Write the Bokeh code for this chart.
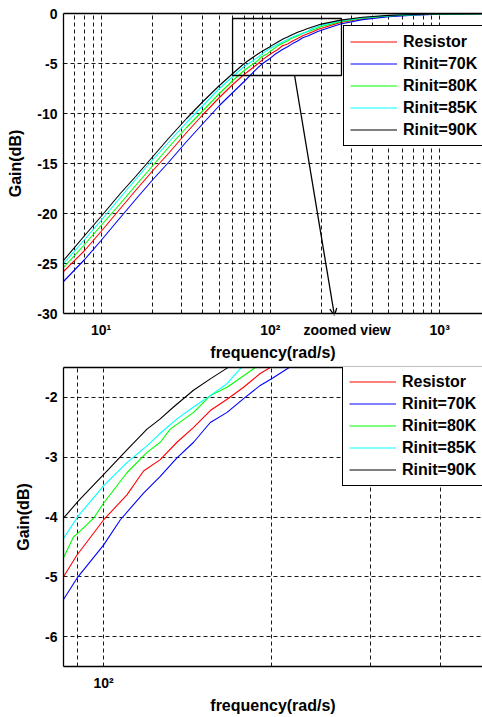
from bokeh.plotting import figure
from bokeh.models import (Range1d, FixedTicker, Legend, LegendItem, BoxAnnotation,
                          Arrow, OpenHead, LogAxis)
from bokeh.layouts import column
from bokeh.embed import file_html
from bokeh.resources import INLINE

# ---------------- data ----------------
series_names = ["Resistor", "Rinit=70K", "Rinit=80K", "Rinit=85K", "Rinit=90K"]
series_colors = ["#ff0000", "#0000ff", "#00ff00", "#00ffff", "#000000"]

freq_resistor = [6, 8, 10, 13, 16, 20, 25, 32, 40, 50, 60, 70, 84.8, 89.6, 100, 110.1, 117.9,
                 126.3, 135.3, 144.9, 155.2, 166.3, 178, 190.6, 198.7, 260, 350, 500, 700, 1000, 1800]
gain_resistor = [-25.8, -23.7, -21.8, -19.5, -17.7, -15.8, -14.0, -11.9, -10.1, -8.4, -7.1, -6.1,
                 -5.0, -4.64, -4.05, -3.63, -3.23, -3.04, -2.75, -2.50, -2.22, -2.03, -1.83, -1.60,
                 -1.50, -0.89, -0.51, -0.26, -0.13, -0.07, -0.02]

freq_70k = [6, 8, 10, 13, 16, 20, 25, 32, 40, 50, 60, 70, 84.8, 90, 100, 107.1, 117.9, 126.3,
            135.3, 144.9, 155.2, 166.3, 178, 190.6, 200.4, 214.8, 260, 350, 500, 700, 1000, 1800]
gain_70k = [-26.8, -24.6, -22.7, -20.4, -18.6, -16.7, -14.9, -12.8, -11.0, -9.2, -7.9, -6.8,
            -5.38, -5.0, -4.47, -4.05, -3.60, -3.32, -3.01, -2.75, -2.42, -2.25, -2.02, -1.80,
            -1.68, -1.50, -1.05, -0.61, -0.31, -0.16, -0.08, -0.03]

freq_80k = [6, 8, 10, 13, 16, 20, 25, 32, 40, 50, 60, 70, 84.8, 88.4, 90, 96, 100, 110.1, 119.6,
            126.3, 131.6, 144.9, 155.2, 166.3, 185.5, 200, 260, 350, 500, 700, 1000, 1800]
gain_80k = [-25.4, -23.1, -21.2, -19.0, -17.2, -15.3, -13.4, -11.4, -9.7, -8.0, -6.7, -5.7,
            -4.68, -4.33, -4.27, -4.02, -3.77, -3.26, -2.92, -2.75, -2.53, -2.25, -1.97, -1.83,
            -1.52, -1.30, -0.81, -0.47, -0.24, -0.12, -0.06, -0.02]

freq_85k = [6, 8, 10, 13, 16, 20, 25, 32, 40, 50, 60, 70, 84.8, 90, 100, 110.1, 119.6, 126.3,
            135.3, 144.9, 155.2, 166.3, 175.6, 200, 260, 350, 500, 700, 1000, 1800]
gain_85k = [-25.0, -22.6, -20.7, -18.4, -16.6, -14.7, -12.9, -10.9, -9.2, -7.5, -6.3, -5.3,
            -4.36, -3.99, -3.48, -3.09, -2.81, -2.60, -2.36, -2.16, -1.97, -1.77, -1.52, -1.18,
            -0.74, -0.42, -0.21, -0.11, -0.05, -0.02]

freq_90k = [6, 8, 10, 13, 16, 20, 25, 32, 40, 50, 60, 70, 84.8, 90, 100, 110, 119.6, 126.3,
            133.4, 144.8, 155.2, 166.3, 200, 260, 350, 500, 700, 1000, 1800]
gain_90k = [-24.7, -22.2, -20.3, -18.0, -16.3, -14.4, -12.5, -10.5, -8.8, -7.2, -6.0, -5.0,
            -4.02, -3.74, -3.29, -2.88, -2.53, -2.36, -2.16, -1.88, -1.69, -1.51, -1.06, -0.66,
            -0.37, -0.19, -0.10, -0.05, -0.02]

series_freqs = [freq_resistor, freq_70k, freq_80k, freq_85k, freq_90k]
series_gains = [gain_resistor, gain_70k, gain_80k, gain_85k, gain_90k]

# axes / ticks
top_x_major = [10, 100, 1000]
top_x_minor = [6, 7, 8, 9, 20, 30, 40, 50, 60, 70, 80, 90,
               200, 300, 400, 500, 600, 700, 800, 900]
zoom_text_freq = 284
top_x_labels = {10: "10\u00b9", 100: "10\u00b2", 1000: "10\u00b3", zoom_text_freq: "zoomed view"}
top_y_ticks = [0, -5, -10, -15, -20, -25, -30]
top_y_labels = {0: "0", -5: "-5", -10: "-10", -15: "-15", -20: "-20", -25: "-25", -30: "-30"}

bot_x_major = [100]
bot_x_minor = [90, 200, 300, 400]
bot_x_labels = {100: "10\u00b2"}
bot_y_ticks = [-2, -3, -4, -5, -6]
bot_y_labels = {-2: "-2", -3: "-3", -4: "-4", -5: "-5", -6: "-6"}

# zoom annotation (data coordinates of the top panel)
zoom_box = dict(left=59.8, right=263, top=-0.5, bottom=-6.2)
zoom_arrow = dict(x_start=139, y_start=-6.2, x_end=239, y_end=-30.2)

FONT = "Liberation Sans"
DASH = "4 3"


def make_fig(height, xr, yr, btop, bbot, xmaj, xmin, xlab, yt, ylab, legend_loc,
             label_ticks=None):
    p = figure(width=482, height=height, x_axis_type="log",
               x_range=Range1d(*xr), y_range=Range1d(*yr),
               output_backend="svg", toolbar_location=None,
               min_border_left=63, min_border_right=0,
               min_border_top=btop, min_border_bottom=bbot)
    grid_ticker = FixedTicker(ticks=xmaj, minor_ticks=xmin)
    p.xaxis.ticker = FixedTicker(ticks=label_ticks if label_ticks else xmaj, minor_ticks=xmin)
    p.xgrid.ticker = grid_ticker
    p.xaxis.major_label_overrides = xlab
    p.yaxis.ticker = FixedTicker(ticks=yt)
    p.yaxis.major_label_overrides = ylab
    for ax in (p.xaxis, p.yaxis):
        ax.major_tick_in = 0
        ax.major_tick_out = 0
        ax.minor_tick_in = 0
        ax.minor_tick_out = 0
        ax.axis_line_color = "black"
        ax.axis_line_width = 1.3
        ax.major_label_text_font = FONT
        ax.major_label_text_font_style = "bold"
        ax.major_label_text_font_size = "14px"
        ax.major_label_text_color = "black"
        ax.axis_label_text_font = FONT
        ax.axis_label_text_font_style = "bold"
        ax.axis_label_text_font_size = "16px"
        ax.axis_label_text_color = "black"
    p.xaxis.axis_label = "frequency(rad/s)"
    p.yaxis.axis_label = "Gain(dB)"
    p.xaxis.major_label_standoff = 8
    p.xaxis.axis_label_standoff = 3
    p.yaxis.major_label_standoff = 6
    p.yaxis.axis_label_standoff = 10
    p.xgrid.grid_line_color = "black"
    p.xgrid.grid_line_dash = DASH
    p.xgrid.grid_line_alpha = 0.9
    p.xgrid.minor_grid_line_color = "black"
    p.xgrid.minor_grid_line_dash = DASH
    p.xgrid.minor_grid_line_alpha = 0.9
    p.ygrid.grid_line_color = "black"
    p.ygrid.grid_line_dash = DASH
    p.ygrid.grid_line_alpha = 0.9
    p.outline_line_color = None
    p.background_fill_color = "white"
    p.border_fill_color = "white"

    # top border of the axes box (right side is cut off in the original)
    top_axis = LogAxis(ticker=FixedTicker(ticks=[]), axis_line_color="black",
                       axis_line_width=1.3, major_tick_in=0, major_tick_out=0,
                       minor_tick_in=0, minor_tick_out=0)
    p.add_layout(top_axis, "above")

    items = []
    for name, color, fx, gy in zip(series_names, series_colors, series_freqs, series_gains):
        r = p.line(fx, gy, line_color=color, line_width=1.1)
        items.append(LegendItem(label=name, renderers=[r]))
    leg = Legend(items=items, location=legend_loc, margin=0, padding=6,
                 spacing=3, glyph_width=47, glyph_height=19, label_height=19,
                 label_standoff=6, label_text_font=FONT, label_text_font_style="bold",
                 label_text_font_size="16px", label_text_color="black",
                 border_line_color="black", border_line_width=1.3, border_line_alpha=1,
                 background_fill_color="white", background_fill_alpha=1)
    p.add_layout(leg)
    return p


top = make_fig(363, (6, 1790), (-30, 0), 13, 50, top_x_major, top_x_minor, top_x_labels,
               top_y_ticks, top_y_labels, (280, 167),
               label_ticks=top_x_major + [zoom_text_freq])
top.add_layout(BoxAnnotation(**zoom_box, fill_alpha=0, line_color="black",
                             line_alpha=1, line_width=1.3))
top.add_layout(Arrow(end=OpenHead(size=7, line_width=1.3, line_color="black"),
                     line_color="black", line_width=1.3, **zoom_arrow))

bottom = make_fig(354, (84.8, 476), (-6.5, -1.5), 4, 51, bot_x_major, bot_x_minor,
                  bot_x_labels, bot_y_ticks, bot_y_labels, (279, 180))

layout = column(top, bottom)
open("out.html", "w").write(file_html(layout, INLINE))
